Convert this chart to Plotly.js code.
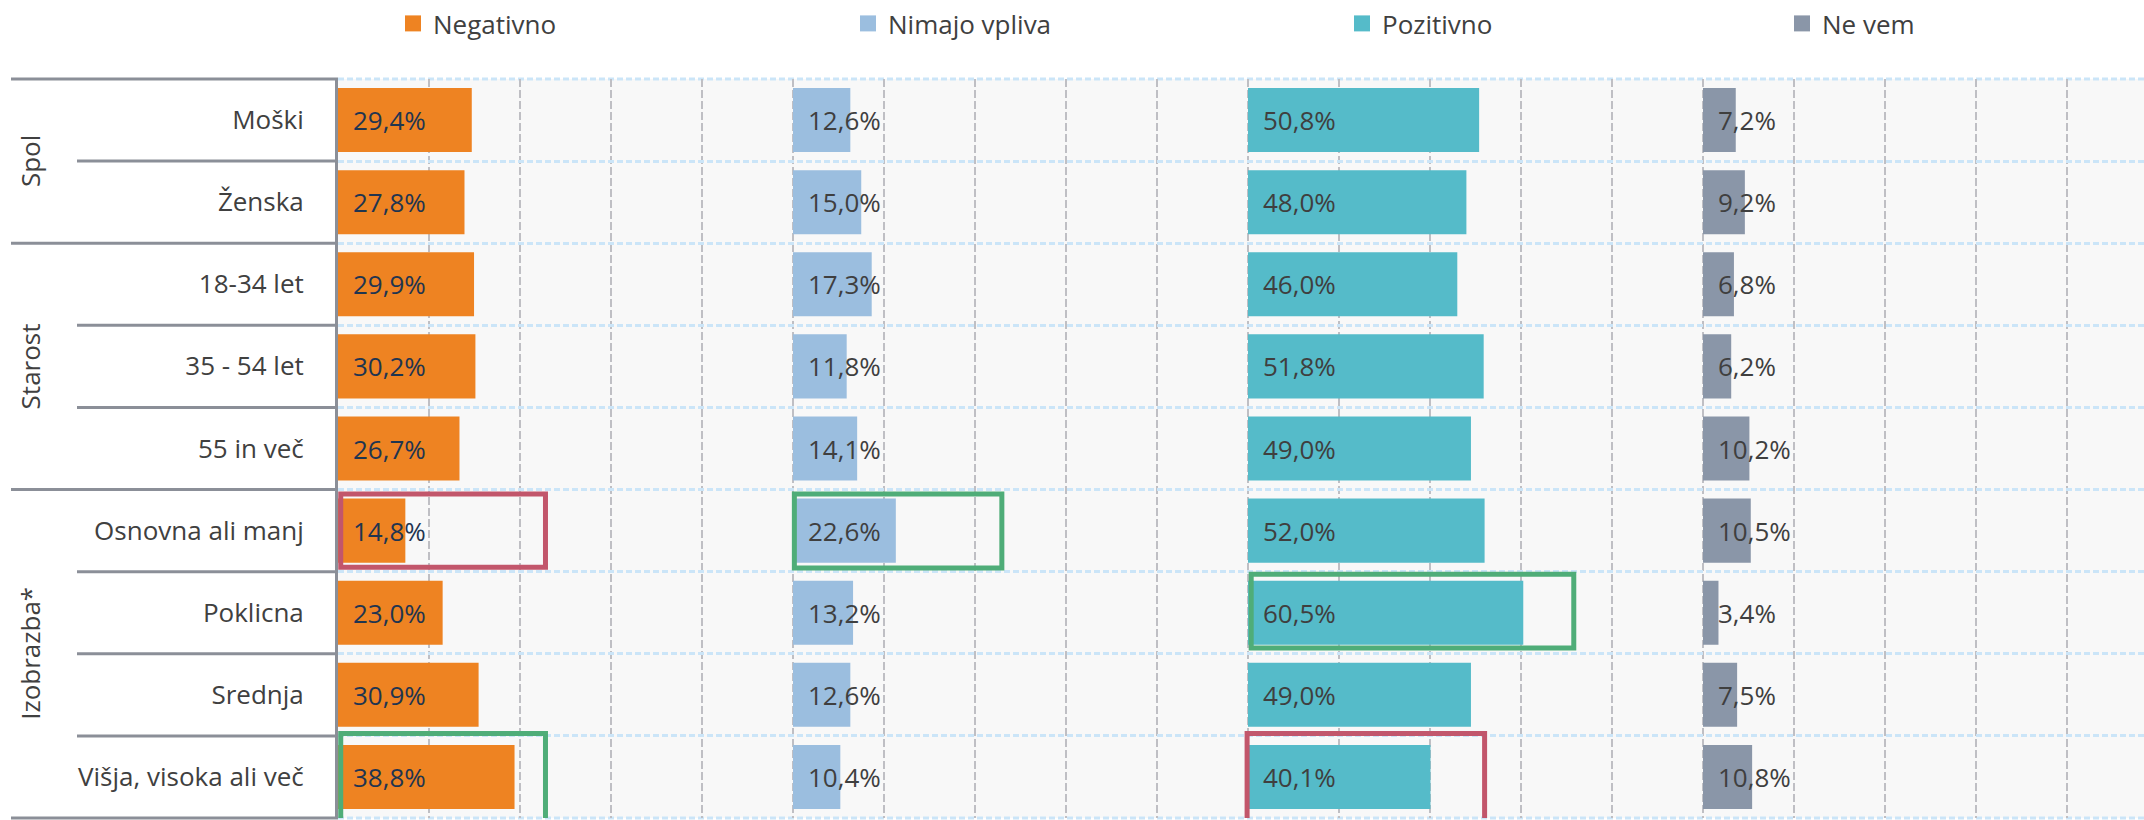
<!DOCTYPE html>
<html><head><meta charset="utf-8">
<script src="https://cdn.plot.ly/plotly-3.0.1.min.js"></script>
<style>html,body{margin:0;padding:0;background:#ffffff;overflow:hidden}</style>
</head><body><div id="chart" style="width:2144px;height:820px"></div>
<script>
// ---- data ----
const categories = ['Moški', 'Ženska', '18-34 let', '35 - 54 let', '55 in več',
  'Osnovna ali manj', 'Poklicna', 'Srednja', 'Višja, visoka ali več'];
const seriesNames = ['Negativno', 'Nimajo vpliva', 'Pozitivno', 'Ne vem'];
const negativno    = [29.4, 27.8, 29.9, 30.2, 26.7, 14.8, 23.0, 30.9, 38.8];
const nimajoVpliva = [12.6, 15.0, 17.3, 11.8, 14.1, 22.6, 13.2, 12.6, 10.4];
const pozitivno    = [50.8, 48.0, 46.0, 51.8, 49.0, 52.0, 60.5, 49.0, 40.1];
const neVem        = [7.2, 9.2, 6.8, 6.2, 10.2, 10.5, 3.4, 7.5, 10.8];
const groupNames = ['Spol', 'Starost', 'Izobrazba*'];
const groupSizes = [2, 3, 4];

// ---- styling ----
const seriesValues = [negativno, nimajoVpliva, pozitivno, neVem];
const colors = ['#EE8322', '#9BBEDF', '#55BBC9', '#8A96A8'];
const labelColors = ['#1F3550', '#3F3F3F', '#3F3F3F', '#3F3F3F'];
const panelWidth = 100;
const W = 2144, H = 820, ML = 338, MT = 79, MB = 2;
const plotW = W - ML;
const pxX = p => (p - ML) / plotW;
const pxY = p => (H - MB - p) / (H - MB - MT);
const FONT = 'Open Sans, Noto Sans, sans-serif';
const textGrey = '#404040';
const lineGrey = '#8B8F98';
const hGridColor = '#CBE5F8';

const traces = [];
seriesValues.forEach((vals, s) => {
  traces.push({
    type: 'bar', orientation: 'h', y: categories, x: vals,
    base: vals.map(() => s * panelWidth), width: 0.78,
    marker: {color: colors[s], line: {width: 0}},
    showlegend: false, hoverinfo: 'skip'
  });
});
seriesNames.forEach((name, s) => {
  traces.push({
    type: 'scatter', mode: 'markers', x: [null], y: [null], name: name,
    marker: {symbol: 'square', size: 16, color: colors[s], line: {width: 0}},
    legend: s === 0 ? 'legend' : 'legend' + (s + 1), hoverinfo: 'skip'
  });
});

// data labels
const annotations = [];
seriesValues.forEach((vals, s) => {
  vals.forEach((v, i) => {
    annotations.push({
      x: s * panelWidth, y: categories[i], xref: 'x', yref: 'y',
      text: v.toFixed(1).replace('.', ',') + '%', showarrow: false,
      xanchor: 'left', yanchor: 'middle', xshift: 13,
      font: {family: FONT, size: 26, color: labelColors[s]}
    });
  });
});
// group labels
let start = 0;
groupNames.forEach((g, k) => {
  const center = start + (groupSizes[k] - 1) / 2;
  annotations.push({
    x: pxX(30), y: center, xref: 'paper', yref: 'y', text: g, showarrow: false,
    textangle: -90, xanchor: 'center', yanchor: 'middle',
    font: {family: FONT, size: 26, color: textGrey}
  });
  start += groupSizes[k];
});

const shapes = [];
// top / bottom dashed grid lines of the plot area
[0, 1].forEach(py => shapes.push({type: 'line', xref: 'paper', yref: 'paper',
  x0: 0, x1: 1, y0: py, y1: py, line: {color: hGridColor, width: 3, dash: '6px,3px'},
  layer: 'below'}));
// separator lines in label area
const groupStarts = [];
let acc = 0;
groupSizes.forEach(n => { groupStarts.push(acc); acc += n; });
for (let b = 0; b <= categories.length; b++) {
  const isGroup = groupStarts.includes(b) || b === categories.length;
  const y = b - 0.5;
  const sh = {type: 'line', xref: 'paper', x0: pxX(isGroup ? 11 : 77), x1: 0,
    line: {color: lineGrey, width: 3}, layer: 'above'};
  if (b === 0) { sh.yref = 'paper'; sh.y0 = sh.y1 = 1; }
  else if (b === categories.length) { sh.yref = 'paper'; sh.y0 = sh.y1 = 0; }
  else { sh.yref = 'y'; sh.y0 = sh.y1 = y; }
  shapes.push(sh);
}
// highlight boxes
const red = '#C2566B', green = '#4FAD78';
const boxes = [
  {x0: 0.6, x1: 45.6, y0: 4.555, y1: 5.445, c: red},
  {x0: 100.3, x1: 145.9, y0: 4.555, y1: 5.455, c: green},
  {x0: 200.7, x1: 271.6, y0: 5.53, y1: 6.43, c: green},
  {x0: 0.6, x1: 45.6, y0: 7.47, y1: 8.7, c: green},
  {x0: 199.8, x1: 252.0, y0: 7.47, y1: 8.7, c: red}
];
boxes.forEach(b => shapes.push({type: 'rect', xref: 'x', yref: 'y',
  x0: b.x0, x1: b.x1, y0: b.y0, y1: b.y1, line: {color: b.c, width: 5},
  fillcolor: 'rgba(0,0,0,0)', layer: 'above'}));

const legendBase = {orientation: 'h', yanchor: 'middle', xanchor: 'left', y: pxY(23),
  bgcolor: 'rgba(0,0,0,0)', borderwidth: 0,
  font: {family: FONT, size: 26, color: textGrey}};
const legendX = [393, 848, 1342, 1782];

const layout = {
  width: W, height: H,
  margin: {l: ML, r: 0, t: MT, b: MB, pad: 0},
  paper_bgcolor: '#ffffff', plot_bgcolor: '#F8F8F8',
  barmode: 'overlay', font: {family: FONT, size: 26, color: textGrey},
  xaxis: {range: [0, plotW / 4.55], tick0: 0, dtick: 20, showticklabels: false,
    showgrid: true, gridcolor: '#BFBFC4', gridwidth: 2, griddash: '8px,3px',
    zeroline: false, showline: false, ticks: '', fixedrange: true},
  yaxis: {type: 'category', categoryorder: 'array', categoryarray: categories,
    range: [categories.length - 0.5, -0.5], tickson: 'boundaries',
    showgrid: true, gridcolor: hGridColor, gridwidth: 3, griddash: '6px,3px',
    showline: true, linecolor: lineGrey, linewidth: 3, ticks: '',
    ticklabelstandoff: 26, tickfont: {family: FONT, size: 26, color: textGrey},
    zeroline: false, fixedrange: true},
  annotations: annotations, shapes: shapes,
  legend: Object.assign({}, legendBase, {x: pxX(legendX[0])}),
  legend2: Object.assign({}, legendBase, {x: pxX(legendX[1])}),
  legend3: Object.assign({}, legendBase, {x: pxX(legendX[2])}),
  legend4: Object.assign({}, legendBase, {x: pxX(legendX[3])})
};
Plotly.newPlot('chart', traces, layout, {displayModeBar: false, staticPlot: true});
</script></body></html>
